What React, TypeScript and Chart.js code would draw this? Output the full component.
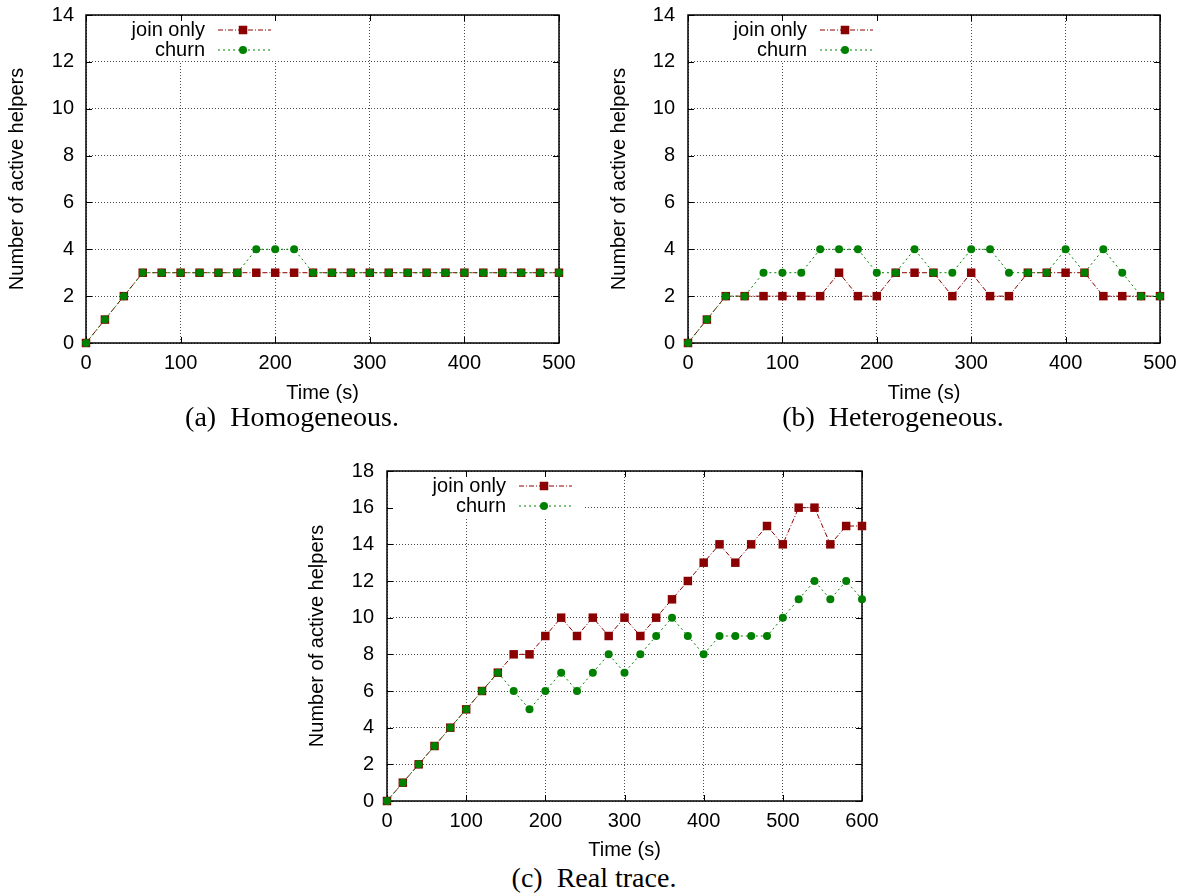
import React, { useEffect, useRef } from 'react';
import { Chart, registerables } from 'chart.js';

Chart.register(...registerables);

// ---------- data ----------
const timeAB = [0, 20, 40, 60, 80, 100, 120, 140, 160, 180, 200, 220, 240, 260, 280, 300, 320, 340, 360, 380, 400, 420, 440, 460, 480, 500];
const homJoin = [0, 1, 2, 3, 3, 3, 3, 3, 3, 3, 3, 3, 3, 3, 3, 3, 3, 3, 3, 3, 3, 3, 3, 3, 3, 3];
const homChurn = [0, 1, 2, 3, 3, 3, 3, 3, 3, 4, 4, 4, 3, 3, 3, 3, 3, 3, 3, 3, 3, 3, 3, 3, 3, 3];
const hetJoin = [0, 1, 2, 2, 2, 2, 2, 2, 3, 2, 2, 3, 3, 3, 2, 3, 2, 2, 3, 3, 3, 3, 2, 2, 2, 2];
const hetChurn = [0, 1, 2, 2, 3, 3, 3, 4, 4, 4, 3, 3, 4, 3, 3, 4, 4, 3, 3, 3, 4, 3, 4, 3, 2, 2];

const timeC = [0, 20, 40, 60, 80, 100, 120, 140, 160, 180, 200, 220, 240, 260, 280, 300, 320, 340, 360, 380, 400, 420, 440, 460, 480, 500, 520, 540, 560, 580, 600];
const realJoin = [0, 1, 2, 3, 4, 5, 6, 7, 8, 8, 9, 10, 9, 10, 9, 10, 9, 10, 11, 12, 13, 14, 13, 14, 15, 14, 16, 16, 14, 15, 15];
const realChurn = [0, 1, 2, 3, 4, 5, 6, 7, 6, 5, 6, 7, 6, 7, 8, 7, 8, 9, 10, 9, 8, 9, 9, 9, 9, 10, 11, 12, 11, 12, 11];

const seriesNames = ['join only', 'churn'];
const xTitle = 'Time (s)';
const yTitle = 'Number of active helpers';
const captions = ['(a)\u2002Homogeneous.', '(b)\u2002Heterogeneous.', '(c)\u2002Real trace.'];

// ---------- styles ----------
const RED = '#8b0000';
const GREEN = '#008000';
const SANS = '"Liberation Sans", Arial, sans-serif';
const SERIF = '"Liberation Serif", "Times New Roman", serif';
const FONT_SIZE = 20;
const JOIN_DASH = [5, 2, 1, 2];
const CHURN_DASH = [2, 3];

type PanelProps = {
  x: number[];
  join: number[];
  churn: number[];
  xMax: number;
  yMax: number;
  left: number;
  top: number;
  width: number;
  height: number;
  padTop: number;
  padRight: number;
  yW: number;
  xH: number;
  yTitlePad: number;
  yTickPad: number;
};

function Panel(p: PanelProps) {
  const ref = useRef<HTMLCanvasElement | null>(null);

  useEffect(() => {
    if (!ref.current) return;
    const font = { family: SANS, size: FONT_SIZE };

    const framePlugin = {
      id: 'gnuFrame',
      beforeDatasetsDraw(chart: any) {
        const { ctx, chartArea: ca, scales } = chart;
        ctx.save();
        // opaque key box
        ctx.fillStyle = '#fff';
        ctx.fillRect(ca.left + 1, ca.top + 1, 195, 45);
        // key entries
        const rows = [ca.top + 15, ca.top + 35];
        const textRight = ca.left + 119;
        const l0 = ca.left + 132;
        const l1 = ca.left + 185;
        const mx = ca.left + 157;
        ctx.font = `${FONT_SIZE}px ${SANS}`;
        ctx.textAlign = 'right';
        ctx.textBaseline = 'middle';
        ctx.fillStyle = '#000';
        ctx.fillText(seriesNames[0], textRight, rows[0]);
        ctx.fillText(seriesNames[1], textRight, rows[1]);
        ctx.lineWidth = 1;
        ctx.strokeStyle = RED;
        ctx.setLineDash(JOIN_DASH);
        ctx.beginPath();
        ctx.moveTo(l0, rows[0]);
        ctx.lineTo(l1, rows[0]);
        ctx.stroke();
        ctx.strokeStyle = GREEN;
        ctx.setLineDash(CHURN_DASH);
        ctx.beginPath();
        ctx.moveTo(l0, rows[1]);
        ctx.lineTo(l1, rows[1]);
        ctx.stroke();
        ctx.setLineDash([]);
        ctx.fillStyle = RED;
        ctx.fillRect(mx - 4.25, rows[0] - 4.25, 8.5, 8.5);
        ctx.fillStyle = GREEN;
        ctx.beginPath();
        ctx.arc(mx, rows[1], 4, 0, Math.PI * 2);
        ctx.fill();

        // inward ticks
        ctx.strokeStyle = '#000';
        ctx.lineWidth = 1;
        ctx.beginPath();
        scales.x.ticks.forEach((t: any) => {
          const px = Math.round(scales.x.getPixelForValue(t.value)) + 0.5;
          ctx.moveTo(px, ca.bottom);
          ctx.lineTo(px, ca.bottom - 6);
          ctx.moveTo(px, ca.top);
          ctx.lineTo(px, ca.top + 6);
        });
        scales.y.ticks.forEach((t: any) => {
          const py = Math.round(scales.y.getPixelForValue(t.value)) + 0.5;
          ctx.moveTo(ca.left, py);
          ctx.lineTo(ca.left + 6, py);
          ctx.moveTo(ca.right, py);
          ctx.lineTo(ca.right - 6, py);
        });
        ctx.stroke();
        // frame
        ctx.lineWidth = 1.5;
        ctx.strokeRect(ca.left, ca.top, ca.right - ca.left, ca.bottom - ca.top);
        ctx.restore();
      },
    };

    const chart = new Chart(ref.current, {
      type: 'line',
      data: {
        datasets: [
          {
            label: seriesNames[0],
            data: p.x.map((xv, i) => ({ x: xv, y: p.join[i] })),
            borderColor: RED,
            backgroundColor: RED,
            borderWidth: 1,
            borderDash: JOIN_DASH,
            pointStyle: 'rect',
            pointRadius: 6,
            pointBorderWidth: 0,
            pointBackgroundColor: RED,
            tension: 0,
            clip: false,
            order: 2,
          },
          {
            label: seriesNames[1],
            data: p.x.map((xv, i) => ({ x: xv, y: p.churn[i] })),
            borderColor: GREEN,
            backgroundColor: GREEN,
            borderWidth: 1,
            borderDash: CHURN_DASH,
            pointStyle: 'circle',
            pointRadius: 4,
            pointBorderWidth: 0,
            pointBackgroundColor: GREEN,
            tension: 0,
            clip: false,
            order: 1,
          },
        ],
      },
      options: {
        responsive: false,
        animation: false,
        events: [],
        layout: { padding: { top: p.padTop, right: p.padRight, left: 0, bottom: 0 } },
        plugins: {
          legend: { display: false },
          tooltip: { enabled: false },
        },
        scales: {
          x: {
            type: 'linear',
            min: 0,
            max: p.xMax,
            ticks: { stepSize: 100, font, color: '#000', padding: 8, maxRotation: 0, autoSkip: false },
            grid: { color: 'rgba(0,0,0,0.7)', lineWidth: 1, drawTicks: false },
            border: { display: false, dash: [1, 2] },
            title: { display: true, text: xTitle, font, color: '#000', padding: { top: 0, bottom: 0 } },
            afterFit: (s: any) => {
              s.height = p.xH;
              s.paddingLeft = 0;
              s.paddingRight = 0;
            },
          },
          y: {
            type: 'linear',
            min: 0,
            max: p.yMax,
            ticks: { stepSize: 2, font, color: '#000', padding: p.yTickPad },
            grid: { color: 'rgba(0,0,0,0.7)', lineWidth: 1, drawTicks: false },
            border: { display: false, dash: [1, 2] },
            title: { display: true, text: yTitle, font, color: '#000', padding: { top: p.yTitlePad, bottom: 0 } },
            afterFit: (s: any) => {
              s.width = p.yW;
              s.paddingTop = 0;
              s.paddingBottom = 0;
            },
          },
        },
      },
      plugins: [framePlugin],
    } as any);
    return () => chart.destroy();
  }, []);

  return (
    <div style={{ position: 'absolute', left: p.left, top: p.top, width: p.width, height: p.height }}>
      <canvas ref={ref} width={p.width} height={p.height} style={{ width: p.width, height: p.height, display: 'block' }} />
    </div>
  );
}

function Caption({ text, center, top }: { text: string; center: number; top: number }) {
  return (
    <div
      style={{
        position: 'absolute',
        left: center - 300,
        top,
        width: 600,
        height: 30,
        lineHeight: '30px',
        textAlign: 'center',
        fontFamily: SERIF,
        fontSize: 28,
        color: '#000',
        whiteSpace: 'pre',
      }}
    >
      {text}
    </div>
  );
}

export default function App() {
  return (
    <div style={{ position: 'absolute', left: 0, top: 0, width: 1184, height: 894, background: '#fff', overflow: 'hidden' }}>
      <Panel x={timeAB} join={homJoin} churn={homChurn} xMax={500} yMax={14}
        left={0} top={0} width={580} height={405} padTop={15} padRight={21} yW={86} xH={62} yTitlePad={5.5} yTickPad={12} />
      <Panel x={timeAB} join={hetJoin} churn={hetChurn} xMax={500} yMax={14}
        left={600} top={0} width={584} height={405} padTop={15} padRight={24} yW={88} xH={62} yTitlePad={7} yTickPad={13} />
      <Panel x={timeC} join={realJoin} churn={realChurn} xMax={600} yMax={18}
        left={300} top={440} width={580} height={422} padTop={31} padRight={18} yW={87} xH={61} yTitlePad={5} yTickPad={13} />
      <Caption text={captions[0]} center={292} top={402} />
      <Caption text={captions[1]} center={893} top={402} />
      <Caption text={captions[2]} center={594} top={863} />
    </div>
  );
}
